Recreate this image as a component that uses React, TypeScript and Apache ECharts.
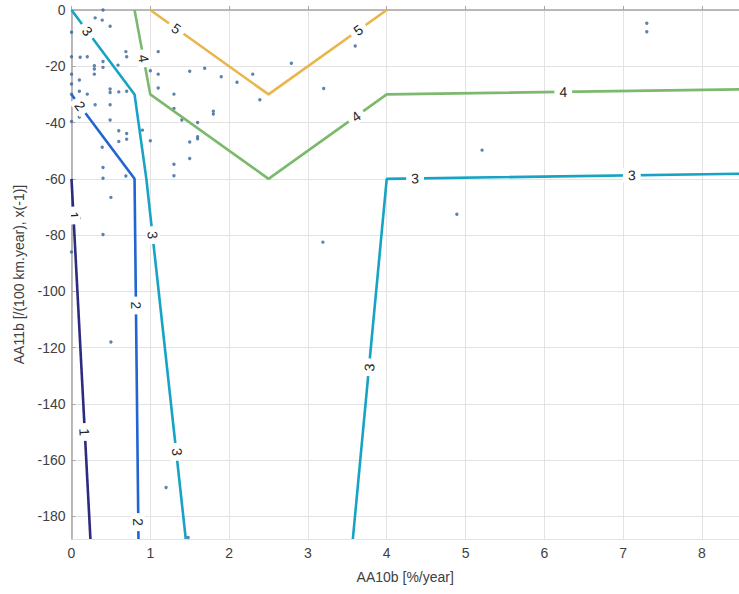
import React, { useEffect, useRef } from "react";
import * as echarts from "echarts";

// Contour lines (x = AA10b, y = AA11b)
const level1: number[][] = [[0, -60], [0.24, -188]];
const level2: number[][] = [[0, -30], [0.8, -60], [0.85, -188]];
const level3a: number[][] = [[0, 0], [0.8, -30], [0.95, -60], [1.45, -188]];
const level3b: number[][] = [[3.57, -188], [4.0, -60], [8.47, -58.2]];
const level4: number[][] = [[0.8, 0], [1.0, -30], [2.5, -60], [4.0, -30], [8.47, -28.2]];
const level5: number[][] = [[1.0, 0], [2.5, -30], [4.0, 0]];

// Contour labels: [x, y, towardX, towardY, text]
const contourLabels: (number | string)[][] = [
  [0.024, -73, 0.24, -188, "1"],
  [0.165, -150, 0.24, -188, "1"],
  [0.11, -34.1, 0.8, -60, "2"],
  [0.82, -105, 0.85, -188, "2"],
  [0.846, -182, 0.85, -188, "2"],
  [0.2, -7.5, 0.8, -30, "3"],
  [1.03, -80, 1.45, -188, "3"],
  [1.34, -157, 1.45, -188, "3"],
  [3.78, -127, 4.0, -60, "3"],
  [4.36, -59.85, 8.47, -58.2, "3"],
  [7.11, -58.7, 8.47, -58.2, "3"],
  [0.915, -17.2, 1.0, -30, "4"],
  [3.61, -37.8, 4.0, -30, "4"],
  [6.24, -29.1, 8.47, -28.2, "4"],
  [1.33, -6.6, 2.5, -30, "5"],
  [3.64, -7.2, 4.0, 0, "5"],
];

// Observed points
const pointsX: number[] = [
  0.4, 0.3, 0.39, 0.49, 0, 0.69, 0.7, 0, 0.11, 0.2, 0.29, 0.29, 0.4, 0.4, 0.59, 0.29, 0, 0.1, 0, 0.1,
  0.2, 0.49, 0.49, 0.6, 0.7, 0, 0.3, 0.49, 0.1, 0.1, 0.49, 0, 0.6, 0.7, 0.7, 0.6, 0.39, 0.9, 1.0, 0.4,
  0.69, 0.4, 0.5, 1.1, 1.0, 1.1, 1.5, 1.69, 1.9, 2.1, 2.3, 2.79, 2.39, 1.1, 1.3, 1.3, 1.8, 1.8, 1.4, 1.6,
  1.6, 1.6, 1.5, 1.5, 1.3, 1.3, 3.2, 3.6, 5.21, 7.3, 7.3, 4.89, 3.19, 0.5, 1.2, 1.48, 0.4, 0, 0.1,
];
const pointsY: number[] = [
  0, -2.8, -3.6, -5.8, -7.9, -14.8, -16.6, -16.6, -16.8, -16.6, -19.8, -21, -20.4, -18.3, -19.6, -22.8, -22.8, -24.9, -26.3, -28.9,
  -29.9, -28.1, -29.3, -29.1, -28.9, -29.9, -33.7, -33.7, -35.8, -38, -39.1, -39.6, -42.9, -43.9, -45.9, -46.7, -48.8, -42.7, -46.5, -56,
  -59, -59.8, -66.6, -14.8, -21.6, -22.8, -21.8, -20.7, -23.7, -25.7, -22.8, -18.9, -31.9, -27.7, -29.9, -35, -36, -37, -39.1, -40,
  -45, -45.8, -46.9, -52.8, -54.8, -58.9, -27.9, -12.8, -49.8, -4.7, -7.7, -72.6, -82.5, -118, -169.7, -187.5, -79.8, -86, -74,
];

const X_MIN = 0;
const X_MAX = 8.47;
const Y_MIN = -188;
const Y_MAX = 0;

const FONT = "'Liberation Sans', Arial, Helvetica, sans-serif";

export default function App() {
  const ref = useRef<HTMLDivElement>(null);
  useEffect(() => {
    if (!ref.current) return;
    const chart = echarts.init(ref.current, undefined, { renderer: "svg" });
    const lineSeries = (data: number[][], color: string) => ({
      type: "line",
      data,
      symbol: "none",
      lineStyle: { color, width: 2.6 },
      z: 3,
      silent: true,
    });
    chart.setOption({
      animation: false,
      backgroundColor: "#ffffff",
      grid: { left: 71.5, right: 0, top: 10, bottom: 55, containLabel: false },
      xAxis: {
        type: "value",
        min: X_MIN,
        max: X_MAX,
        interval: 1,
        name: "AA10b [%/year]",
        nameLocation: "middle",
        nameGap: 31,
        nameTextStyle: { color: "#404040", fontSize: 14, fontFamily: FONT },
        axisLine: { show: true, lineStyle: { color: "#a6a6a6", width: 1.5 } },
        axisTick: { show: true, inside: true, length: 4, lineStyle: { color: "#a6a6a6" } },
        axisLabel: { color: "#404040", fontSize: 14, fontFamily: FONT, margin: 7, showMaxLabel: false },
        splitLine: { show: true, lineStyle: { color: "#e3e3e3", width: 1 } },
      },
      yAxis: {
        type: "value",
        min: Y_MIN,
        max: Y_MAX,
        splitNumber: 9,
        minInterval: 20,
        maxInterval: 20,
        name: "AA11b [/(100 km.year), x(-1)]",
        nameLocation: "middle",
        nameGap: 46,
        nameTextStyle: { color: "#404040", fontSize: 14, fontFamily: FONT },
        axisLine: { show: true, lineStyle: { color: "#a6a6a6", width: 1.5 } },
        axisTick: { show: true, inside: true, length: 4, lineStyle: { color: "#a6a6a6" } },
        axisLabel: { color: "#404040", fontSize: 14, fontFamily: FONT, margin: 6, showMinLabel: false },
        splitLine: { show: true, lineStyle: { color: "#e3e3e3", width: 1 } },
      },
      series: [
        {
          type: "scatter",
          data: pointsX.map((x, i) => [x, pointsY[i]]),
          symbol: "circle",
          symbolSize: 3.4,
          itemStyle: { color: "#35649a" },
          z: 2,
          silent: true,
        },
        lineSeries(level1, "#2e2a80"),
        lineSeries(level2, "#2065d1"),
        lineSeries(level3a, "#16a3c4"),
        lineSeries(level3b, "#16a3c4"),
        lineSeries(level4, "#7cb96f"),
        lineSeries(level5, "#e9b64c"),
        {
          type: "custom",
          data: contourLabels,
          z: 5,
          silent: true,
          clip: true,
          renderItem: (_params: any, api: any) => {
            const p1 = api.coord([api.value(0), api.value(1)]);
            const p2 = api.coord([api.value(2), api.value(3)]);
            let dx = p2[0] - p1[0];
            let dy = p2[1] - p1[1];
            if (dx < 0) {
              dx = -dx;
              dy = -dy;
            }
            const ang = Math.atan2(dy, dx);
            return {
              type: "text",
              x: p1[0],
              y: p1[1],
              rotation: -ang,
              style: {
                text: String(api.value(4)),
                x: 0,
                y: 0,
                align: "center",
                verticalAlign: "middle",
                fill: "#262626",
                fontSize: 14,
                fontFamily: FONT,
                backgroundColor: "#ffffff",
                padding: [0, 5],
              },
            };
          },
        },
      ],
    });
    return () => chart.dispose();
  }, []);
  return (
    <div
      ref={ref}
      style={{ position: "absolute", left: 0, top: 0, width: 739, height: 594 }}
    />
  );
}
